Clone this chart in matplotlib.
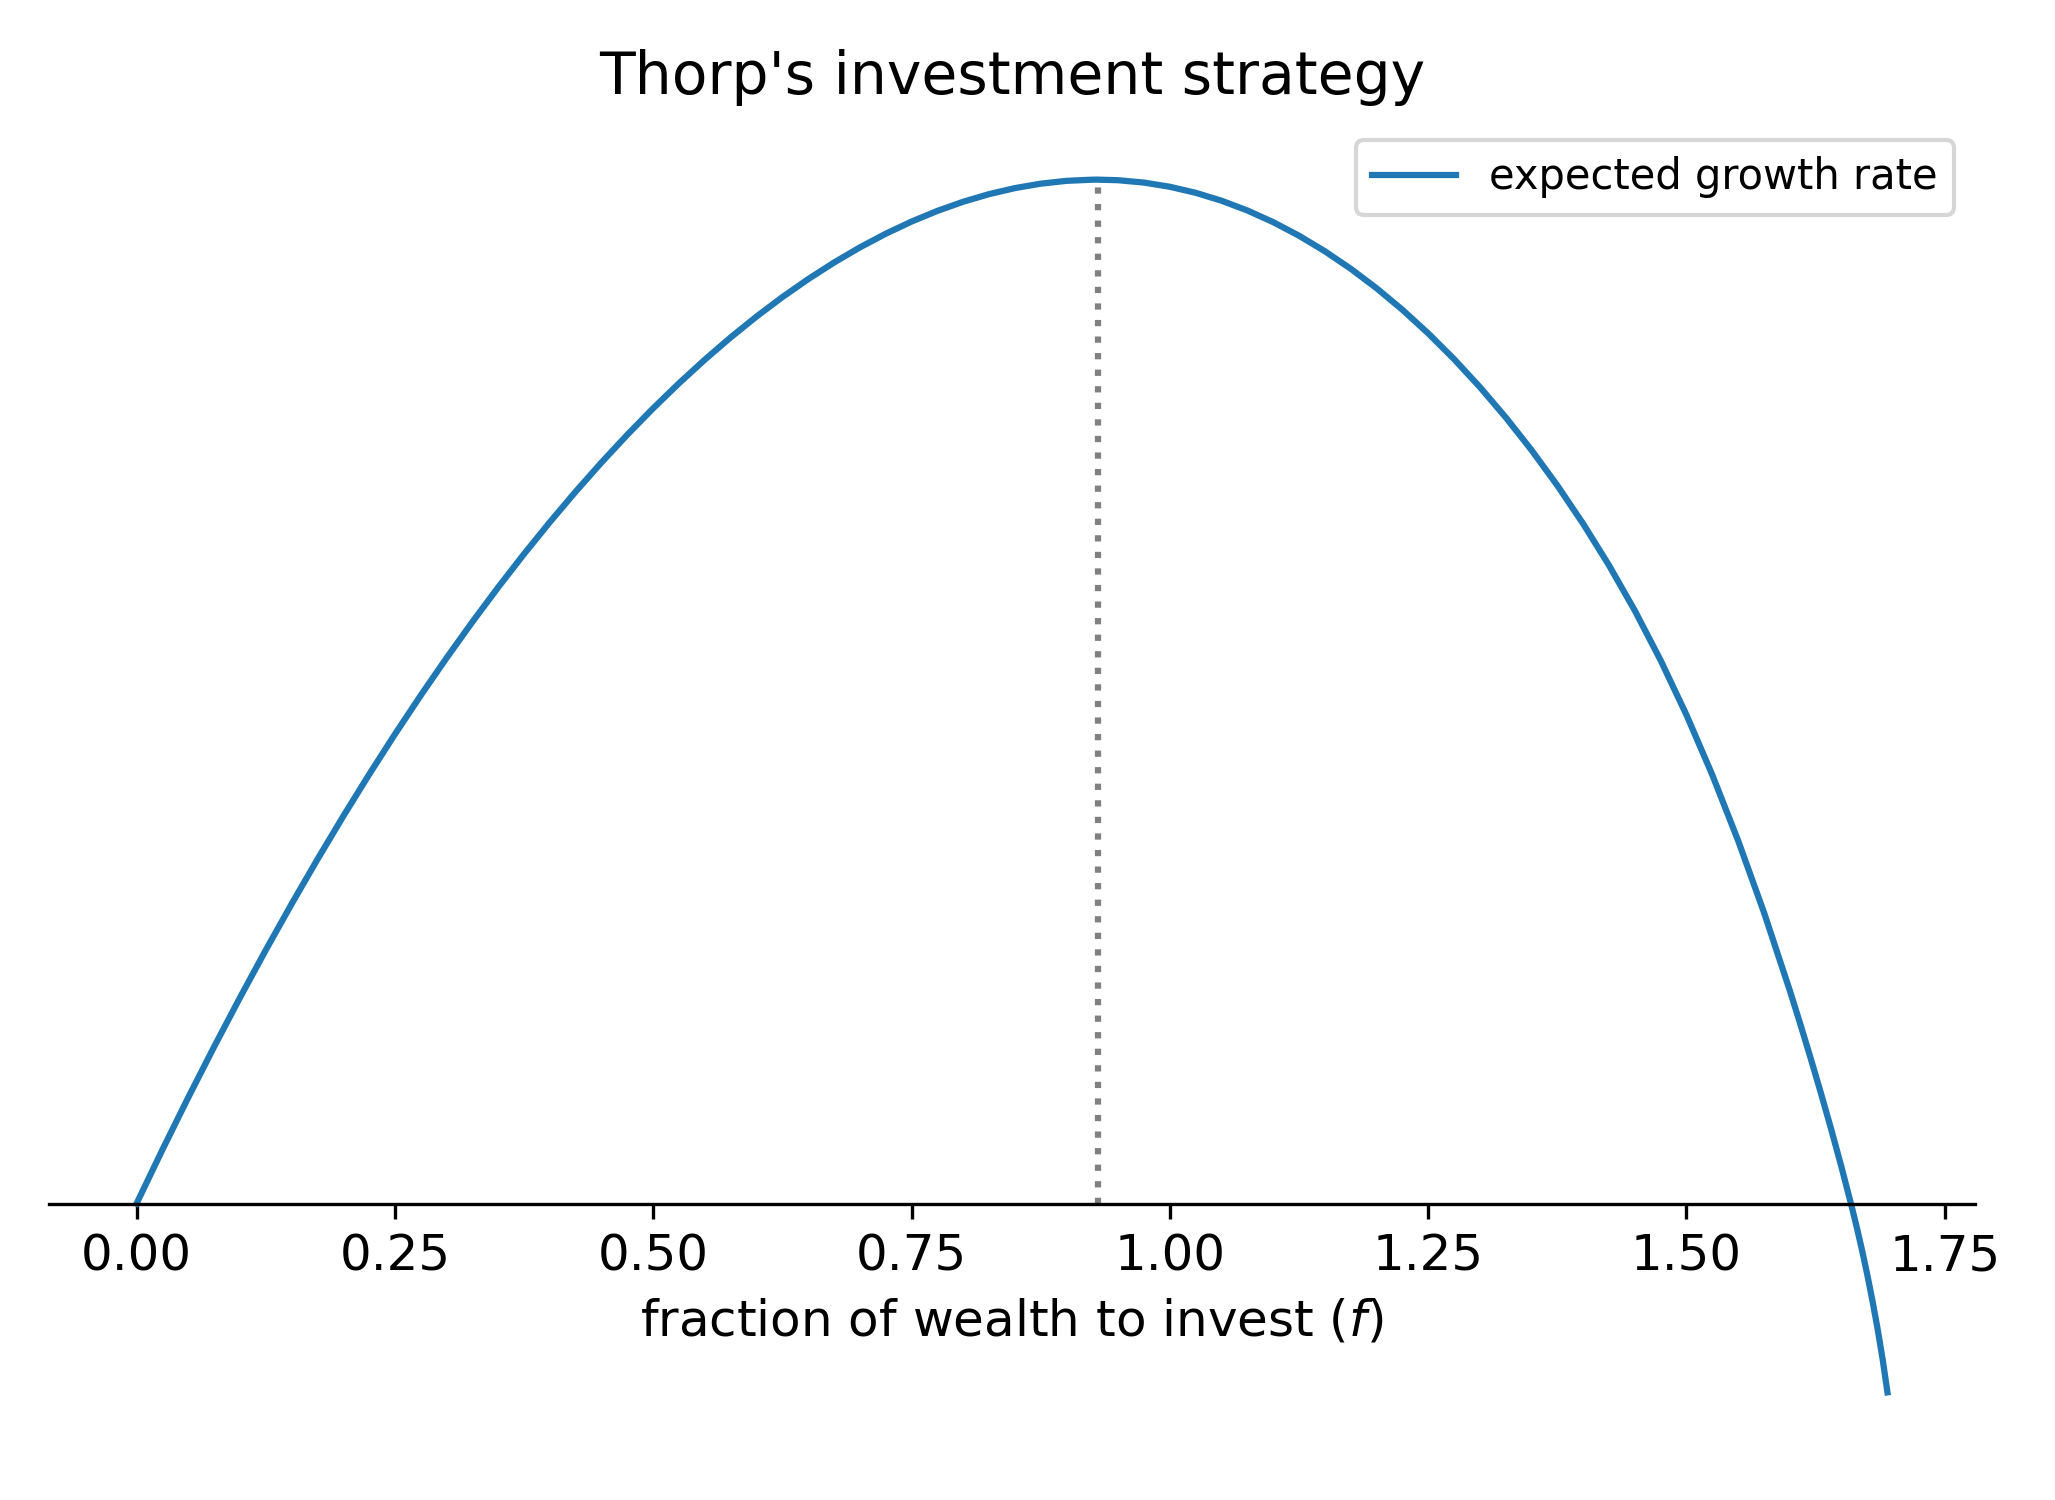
import matplotlib
matplotlib.use("Agg")
import matplotlib.pyplot as plt

# fraction of wealth invested (f)
fraction = [0.000, 0.025, 0.050, 0.075, 0.100, 0.125, 0.150, 0.175, 0.200, 0.225,
            0.250, 0.275, 0.300, 0.325, 0.350, 0.375, 0.400, 0.425, 0.450, 0.475,
            0.500, 0.525, 0.550, 0.575, 0.600, 0.625, 0.650, 0.675, 0.700, 0.725,
            0.750, 0.775, 0.800, 0.825, 0.850, 0.875, 0.900, 0.925, 0.930,
            0.950, 0.975, 1.000, 1.025, 1.050, 1.075, 1.100, 1.125, 1.150, 1.175,
            1.200, 1.225, 1.250, 1.275, 1.300, 1.325, 1.350, 1.375, 1.400, 1.425,
            1.450, 1.475, 1.500, 1.525, 1.550, 1.575, 1.600,
            1.610, 1.620, 1.630, 1.640, 1.650, 1.660,
            1.665, 1.670, 1.675, 1.680, 1.685, 1.690, 1.6945]

# expected growth rate (in 1e-4 units)
growth_e4 = [0.00, 53.76, 105.94, 156.55, 205.62, 253.18, 299.23, 343.81, 386.93, 428.61,
             468.85, 507.68, 545.09, 581.12, 615.75, 649.00, 680.86, 711.36, 740.48, 768.22,
             794.59, 819.58, 843.19, 865.40, 886.22, 905.63, 923.62, 940.17, 955.28, 968.93,
             981.09, 991.76, 1000.90, 1008.50, 1014.53, 1018.97, 1021.79, 1022.96, 1023.00,
             1022.42, 1020.06, 1015.87, 1009.85, 1001.96, 992.20, 980.55, 966.98, 951.48, 934.02,
             914.56, 893.06, 869.48, 843.77, 815.83, 785.57, 752.85, 717.47, 679.20, 637.71,
             592.44, 542.75, 488.19, 428.28, 362.61, 290.90, 212.90,
             179.91, 145.88, 110.78, 74.45, 36.55, -3.35,
             -24.48, -46.98, -71.11, -97.11, -125.36, -156.61, -188.56]

growth = [g / 1e4 for g in growth_e4]

f_star = 0.93
g_star = max(growth)

plt.rcParams['font.family'] = ['DejaVu Sans']
plt.rcParams['font.size'] = 12

fig = plt.figure(figsize=(6.85, 5.0), dpi=300)
ax = fig.add_axes([49 / 2055, 47 / 1500, (1975 - 49) / 2055, (1453 - 119) / 1500])

ax.plot(fraction, growth, color='#1f77b4', lw=1.5, label='expected growth rate')
ax.vlines(f_star, 0, g_star, colors='gray', linestyles=':', lw=1.5)

ax.spines['left'].set_visible(False)
ax.spines['right'].set_visible(False)
ax.spines['top'].set_visible(False)
ax.spines['bottom'].set_position('zero')
ax.set_yticks([])
ax.set_xticks([0.0, 0.25, 0.5, 0.75, 1.0, 1.25, 1.5, 1.75])
ax.set_xticklabels(['0.00', '0.25', '0.50', '0.75', '1.00', '1.25', '1.50', '1.75'])
ax.set_xlabel('fraction of wealth to invest ($f$)')
ax.set_title("Thorp's investment strategy", fontsize=14)
ax.legend(loc='upper right', fontsize=10)

fig.savefig('out.png', dpi=300)
